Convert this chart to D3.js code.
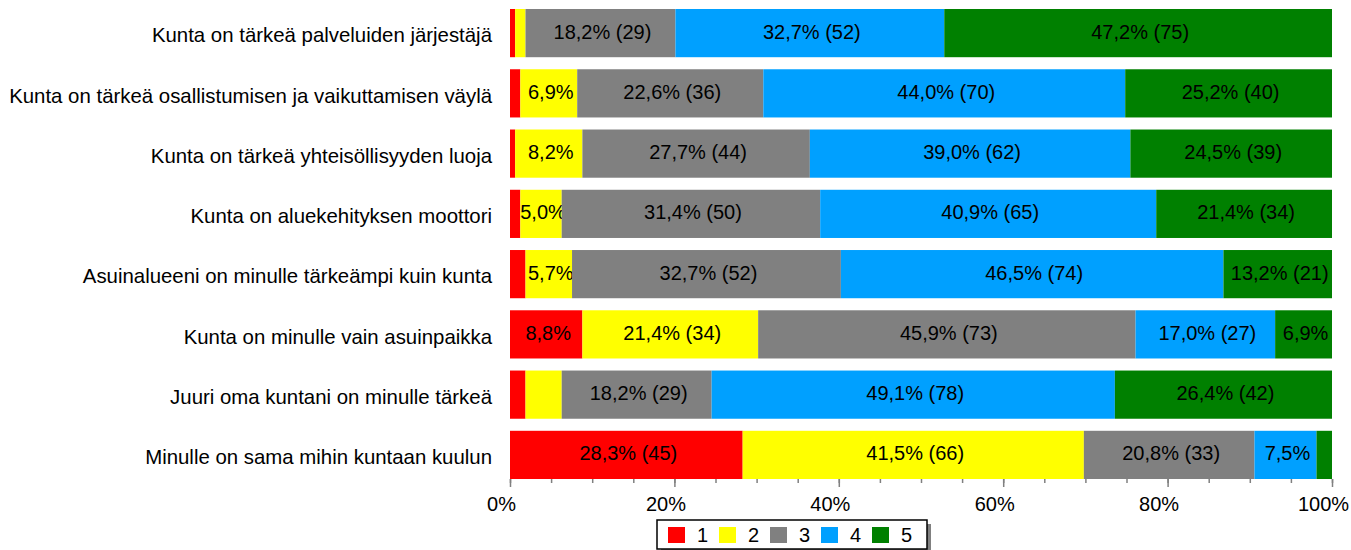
<!DOCTYPE html>
<html><head><meta charset="utf-8">
<script src="https://cdn.jsdelivr.net/npm/d3@7"></script>
<style>
html,body{margin:0;padding:0;background:#fff;}
svg text{font-family:"Liberation Sans",Arial,sans-serif;}
</style></head>
<body><svg id="c" width="1351" height="550"></svg>
<script>
const categories = [
  "Kunta on tärkeä palveluiden järjestäjä",
  "Kunta on tärkeä osallistumisen ja vaikuttamisen väylä",
  "Kunta on tärkeä yhteisöllisyyden luoja",
  "Kunta on aluekehityksen moottori",
  "Asuinalueeni on minulle tärkeämpi kuin kunta",
  "Kunta on minulle vain asuinpaikka",
  "Juuri oma kuntani on minulle tärkeä",
  "Minulle on sama mihin kuntaan kuulun"
];
const seriesNames = ["1","2","3","4","5"];
const s1 = [1, 2, 1, 2, 3, 14, 3, 45];
const s2 = [2, 11, 13, 8, 9, 34, 7, 66];
const s3 = [29, 36, 44, 50, 52, 73, 29, 33];
const s4 = [52, 70, 62, 65, 74, 27, 78, 12];
const s5 = [75, 40, 39, 34, 21, 11, 42, 3];
const colors = ["#FF0000","#FFFF00","#808080","#00A0FF","#008000"];
const tickValues = [0, 0.2, 0.4, 0.6, 0.8, 1.0];

const seriesCounts = [s1, s2, s3, s4, s5];
const rows = categories.map((c, i) => {
  const counts = seriesCounts.map(s => s[i]);
  const total = d3.sum(counts);
  const o = {cat: c, total};
  seriesNames.forEach((k, j) => { o[k] = counts[j] / total; o["n" + k] = counts[j]; });
  return o;
});

const FS = 20;
const svg = d3.select("#c");
const x = d3.scaleLinear().domain([0, 1]).range([510, 1332]);
const y = d3.scaleBand().domain(categories).range([9, 479]).paddingInner(0.2).paddingOuter(0);

const stack = d3.stack().keys(seriesNames)(rows);
const fmt = v => (v * 100).toFixed(1).replace(".", ",") + "%";

stack.forEach((layer, j) => {
  const g = svg.append("g");
  g.selectAll("rect").data(layer).enter().append("rect")
    .attr("x", d => x(d[0]))
    .attr("y", d => y(d.data.cat))
    .attr("width", d => x(d[1]) - x(d[0]))
    .attr("height", y.bandwidth())
    .attr("fill", colors[j]);
  g.selectAll("text").data(layer).enter().append("text")
    .attr("x", d => (x(d[0]) + x(d[1])) / 2 + 2)
    .attr("y", d => y(d.data.cat) + y.bandwidth() / 2)
    .attr("dy", "0.27em")
    .attr("text-anchor", "middle")
    .attr("font-size", FS)
    .attr("fill", "#000")
    .text(d => {
      const p = d[1] - d[0];
      const n = d.data["n" + seriesNames[j]];
      if (p >= 0.12) return fmt(p) + " (" + n + ")";
      if (p >= 0.05) return fmt(p);
      return "";
    });
});

// category labels
svg.append("g").selectAll("text").data(categories).enter().append("text")
  .attr("x", 492)
  .attr("y", d => y(d) + y.bandwidth() / 2)
  .attr("dy", "0.45em")
  .attr("text-anchor", "end")
  .attr("font-size", 20.4)
  .attr("fill", "#000")
  .text(d => d);

// axis
const axG = svg.append("g").attr("transform", "translate(0,479)");
axG.call(d3.axisBottom(x).tickValues(d3.range(0, 1.0001, 0.05)).tickSize(4).tickFormat(""));
axG.select(".domain").remove();
axG.selectAll(".tick line").attr("stroke", "#808080").attr("stroke-width", 1.5);
const axMajor = svg.append("g").attr("transform", "translate(0,479)");
axMajor.call(d3.axisBottom(x).tickValues(tickValues).tickSize(8).tickPadding(10)
  .tickFormat(d => Math.round(d * 100) + "%"));
axMajor.select(".domain").remove();
axMajor.selectAll(".tick line").attr("stroke", "#808080").attr("stroke-width", 1.5);
axMajor.selectAll(".tick text").attr("font-size", FS).attr("fill", "#000")
  .attr("dx", -9)
  .attr("font-family", "Liberation Sans, Arial, sans-serif");

// legend
const lg = svg.append("g").attr("transform", "translate(657,520)");
lg.append("rect").attr("x", 4).attr("y", 4).attr("width", 270).attr("height", 29).attr("fill", "#808080");
lg.append("rect").attr("x", 0).attr("y", 0).attr("width", 270).attr("height", 29)
  .attr("fill", "#fff").attr("stroke", "#000").attr("stroke-width", 1.5);
const li = lg.selectAll("g.item").data(seriesNames).enter().append("g")
  .attr("transform", (d, i) => `translate(${11 + i * 51},7)`);
li.append("rect").attr("width", 17).attr("height", 16).attr("fill", (d, i) => colors[i]);
li.append("text").attr("x", 29).attr("y", 15)
  .attr("font-size", FS).text(d => d);
</script></body></html>
